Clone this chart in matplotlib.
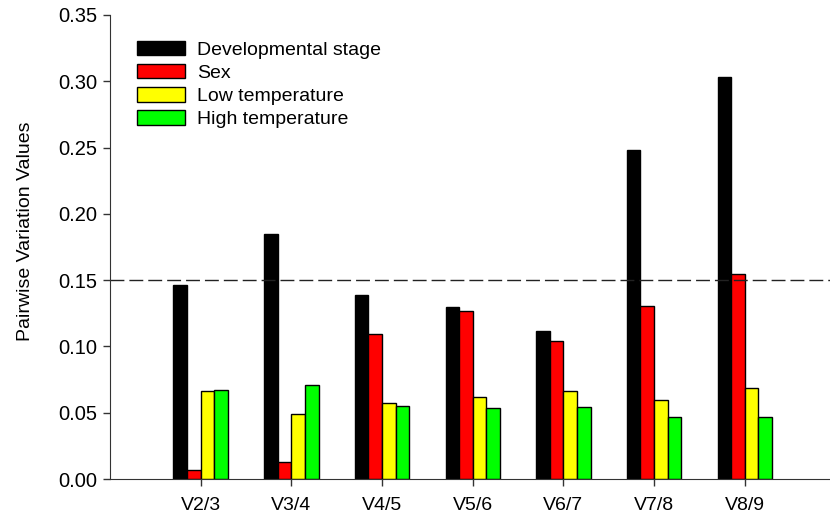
import numpy as np
import matplotlib.pyplot as plt

plt.rcParams['font.family'] = ['Liberation Sans', 'DejaVu Sans']

pairs = ['V2/3', 'V3/4', 'V4/5', 'V5/6', 'V6/7', 'V7/8', 'V8/9']
dev_stage = [0.146, 0.185, 0.139, 0.130, 0.112, 0.248, 0.303]
sex = [0.0066, 0.0126, 0.109, 0.1265, 0.104, 0.1305, 0.1545]
low_temp = [0.0665, 0.0493, 0.0572, 0.0615, 0.0667, 0.0598, 0.0684]
high_temp = [0.0672, 0.071, 0.0553, 0.0533, 0.0543, 0.047, 0.0465]

series = [dev_stage, sex, low_temp, high_temp]
names = ['Developmental stage', 'Sex', 'Low temperature', 'High temperature']
colors = ['#000000', '#ff0000', '#ffff00', '#00ff00']

fig = plt.figure(figsize=(8.3, 5.17), dpi=100)
ax = fig.add_axes([0.1325, 0.0735, 0.8675, 0.8975])

x = np.arange(1, len(pairs) + 1)
w = 0.15
for k, (vals, name, c) in enumerate(zip(series, names, colors)):
    ax.bar(x + (k - 1.5) * w, vals, w, color=c, edgecolor='black',
           linewidth=1.0, label=name)

# threshold line at V = 0.15
ax.axhline(0.15, color='#222222', linestyle=(0, (10, 3.6)), linewidth=1.0)

ax.set_xlim(0, 7.94)
ax.set_ylim(0, 0.35)
ax.set_xticks(x)
ax.set_xticklabels(pairs, fontsize=14)
ax.set_yticks(np.arange(0, 0.351, 0.05))
ax.set_yticklabels(['%.2f' % v for v in np.arange(0, 0.351, 0.05)], fontsize=14.5)
ax.tick_params(direction='out', length=5, width=1.0, color='#333333')
ax.tick_params(axis='y', pad=4)
ax.tick_params(axis='x', pad=8)
for s in ['left', 'bottom']:
    ax.spines[s].set_color('#333333')
ax.spines['top'].set_visible(False)
ax.spines['right'].set_visible(False)
ax.set_ylabel('Pairwise Variation Values', fontsize=14)
ax.yaxis.set_label_coords(-0.106, 0.534)

ax.legend(loc='upper left', bbox_to_anchor=(0.0244, 0.965), frameon=False,
          fontsize=14, handlelength=2.45, handleheight=0.75,
          handletextpad=0.64, labelspacing=0.27, borderpad=0)

fig.savefig('out.png', dpi=100)
